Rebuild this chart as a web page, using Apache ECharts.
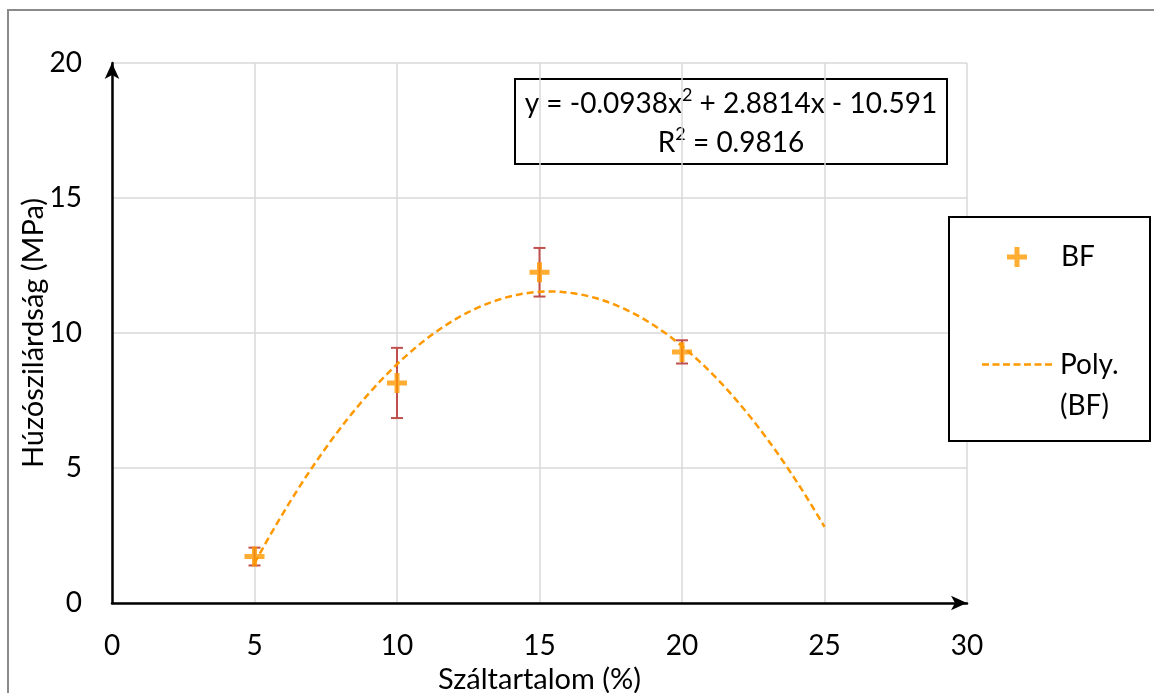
<!DOCTYPE html>
<html>
<head>
<meta charset="utf-8">
<script src="https://cdn.jsdelivr.net/npm/echarts@6/dist/echarts.min.js"></script>
<style>
  html, body { margin: 0; padding: 0; background: #fff; }
  #chart { width: 1154px; height: 693px; }
</style>
</head>
<body>
<div id="chart"></div>
<script>
// Fibre content (%) and measured tensile strength (MPa) with error half-widths
const fibreContent = [5, 10, 15, 20];
const strength = [1.72, 8.15, 12.25, 9.3];
const strengthErr = [0.33, 1.3, 0.9, 0.43];

// Quadratic trend: y = a x^2 + b x + c, drawn over 5..25 %
const trendCoefs = [-0.0938, 2.8814, -10.591];
const trendRange = [5, 25];
const trendLabel = 'y = -0.0938x{s|2} + 2.8814x - 10.591\nR{s|2} = 0.9816';

const xTicks = [0, 5, 10, 15, 20, 25, 30];
const yTicks = [0, 5, 10, 15, 20];

const FONT = 'Lato, "Open Sans", sans-serif';
const ORANGE = '#FF9900';
const ERR_RED = '#C0504D';
const PLUS = 'path://M7.5,0h5v7.5h7.5v5h-7.5v7.5h-5v-7.5h-7.5v-5h7.5z';
const DASH_ICON = 'path://M0,0h7v2.5h-7z M10.5,0h7v2.5h-7z M21,0h7v2.5h-7z M31.5,0h7v2.5h-7z M42,0h7v2.5h-7z M52.5,0h7v2.5h-7z M63,0h7v2.5h-7z';

const trendPts = [];
for (let i = 0; i <= 100; i++) {
  const x = trendRange[0] + (trendRange[1] - trendRange[0]) * i / 100;
  trendPts.push([x, trendCoefs[0] * x * x + trendCoefs[1] * x + trendCoefs[2]]);
}

const points = fibreContent.map((x, i) => [x, strength[i]]);
const errData = fibreContent.map((x, i) => [x, strength[i] - strengthErr[i], strength[i] + strengthErr[i]]);

const chart = echarts.init(document.getElementById('chart'), null, { renderer: 'canvas' });

chart.setOption({
  backgroundColor: '#fff',
  animation: false,
  textStyle: { fontFamily: FONT },
  grid: { left: 112, right: 187, top: 63, bottom: 90, containLabel: false, outerBoundsMode: 'none' },
  xAxis: {
    type: 'value', min: 0, max: 30, interval: 5,
    name: 'Száltartalom (%)', nameLocation: 'middle', nameGap: 59,
    nameTextStyle: { fontSize: 29, color: '#000', fontFamily: FONT },
    axisLine: { show: true, lineStyle: { color: '#000', width: 2.5 }, symbol: ['none', 'arrow'], symbolSize: [11, 16] },
    axisTick: { show: false },
    axisLabel: { fontSize: 28, color: '#000', margin: 29, fontFamily: FONT,
      formatter: v => xTicks.includes(v) ? String(v) : '' },
    splitLine: { show: true, lineStyle: { color: '#d9d9d9', width: 1.5 } }
  },
  yAxis: {
    type: 'value', min: 0, max: 20, interval: 5,
    name: 'Húzószilárdság (MPa)', nameLocation: 'middle', nameGap: 64, nameRotate: 90,
    nameMoveOverlap: false,
    nameTextStyle: { fontSize: 29, color: '#000', fontFamily: FONT },
    axisLine: { show: true, lineStyle: { color: '#000', width: 2.5 }, symbol: ['none', 'arrow'], symbolSize: [11, 16] },
    axisTick: { show: false },
    axisLabel: { fontSize: 28, color: '#000', margin: 30, fontFamily: FONT,
      formatter: v => yTicks.includes(v) ? String(v) : '' },
    splitLine: { show: true, lineStyle: { color: '#d9d9d9', width: 1.5 } }
  },
  legend: [
    {
      data: [{ name: 'BF', icon: PLUS }],
      orient: 'vertical', left: 1002, top: 238,
      itemWidth: 20, itemHeight: 20, selectedMode: false,
      textStyle: { fontSize: 28, color: '#000', fontFamily: FONT, padding: [0, 0, 0, 29] }
    },
    {
      data: [{ name: 'Poly. (BF)', icon: DASH_ICON, itemStyle: { color: ORANGE } }],
      orient: 'vertical', left: 977, top: 298,
      itemWidth: 70, itemHeight: 3, selectedMode: false,
      formatter: () => ' \nPoly.\n(BF)',
      textStyle: { fontSize: 28, color: '#000', fontFamily: FONT, lineHeight: 41, padding: [0, 0, 0, 3] }
    }
  ],
  graphic: [
    { type: 'rect', shape: { x: 8, y: 10, width: 1160, height: 700 },
      style: { fill: 'none', stroke: '#8a8a8a', lineWidth: 2 }, silent: true, z: 0 },
    { type: 'rect', shape: { x: 949, y: 217, width: 201, height: 224 },
      style: { fill: '#fff', stroke: '#000', lineWidth: 2 }, silent: true, z: 1 },
    { type: 'group', left: 514, top: 78, z: 10, children: [
      { type: 'rect', shape: { x: 0, y: 0, width: 432, height: 85 },
        style: { fill: '#fff', stroke: '#000', lineWidth: 2 } },
      { type: 'text', x: 216, y: 44,
        style: { text: trendLabel, fill: '#000', font: '28px ' + FONT, align: 'center',
          verticalAlign: 'middle', lineHeight: 39,
          rich: { s: { fontSize: 18, fontFamily: FONT, fill: '#000', lineHeight: 39, padding: [0, 0, 16, 0] } } } }
    ]}
  ],
  series: [
    {
      name: 'BF error', type: 'custom', z: 3,
      data: errData,
      renderItem: (params, api) => {
        const x = api.value(0);
        const lo = api.coord([x, api.value(1)]);
        const hi = api.coord([x, api.value(2)]);
        const cap = 6;
        const st = { stroke: ERR_RED, lineWidth: 2 };
        return { type: 'group', children: [
          { type: 'line', shape: { x1: lo[0], y1: lo[1], x2: hi[0], y2: hi[1] }, style: st },
          { type: 'line', shape: { x1: lo[0] - cap, y1: lo[1], x2: lo[0] + cap, y2: lo[1] }, style: st },
          { type: 'line', shape: { x1: hi[0] - cap, y1: hi[1], x2: hi[0] + cap, y2: hi[1] }, style: st }
        ]};
      },
      silent: true
    },
    {
      name: 'Poly. (BF)', type: 'line', z: 4,
      data: trendPts, showSymbol: false, symbol: 'none', smooth: false,
      lineStyle: { color: ORANGE, width: 2.5, type: [7, 4] },
      itemStyle: { color: ORANGE },
      silent: true
    },
    {
      name: 'BF', type: 'scatter', z: 5,
      data: points, symbol: PLUS, symbolSize: 20,
      itemStyle: { color: ORANGE }
    }
  ]
});
</script>
</body>
</html>
